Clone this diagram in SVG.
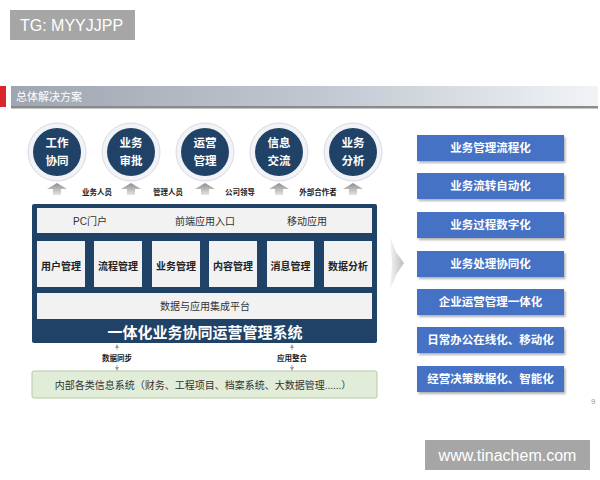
<svg xmlns="http://www.w3.org/2000/svg" width="600" height="480" viewBox="0 0 600 480">
<defs>
<linearGradient id="hdr" x1="0" y1="0" x2="1" y2="0">
<stop offset="0" stop-color="#9ea6b2"/>
<stop offset="0.55" stop-color="#c3c9d2"/>
<stop offset="1" stop-color="#f1f3f6"/>
</linearGradient>
<linearGradient id="upa" x1="0" y1="0" x2="0" y2="1">
<stop offset="0" stop-color="#8e8e8e"/>
<stop offset="1" stop-color="#e4e4e4"/>
</linearGradient>
<linearGradient id="chev" x1="0" y1="0" x2="1" y2="0">
<stop offset="0" stop-color="#f4f4f4"/>
<stop offset="1" stop-color="#bdbdbd"/>
</linearGradient>
<marker id="ah" viewBox="0 0 6 6" refX="3" refY="3" markerWidth="5" markerHeight="5" orient="auto-start-reverse">
<path d="M0,0 L6,3 L0,6 z" fill="#9a9a9a"/>
</marker>
<filter id="sh" x="-10%" y="-10%" width="130%" height="140%">
<feDropShadow dx="1.5" dy="2" stdDeviation="1" flood-color="#000" flood-opacity="0.3"/>
</filter>
</defs>
<style>
text{font-family:"Liberation Sans","Noto Sans CJK SC",sans-serif;}
.wm{fill:#a6a6a6;}
.wmt{fill:#fff;font-size:16px;}
.halo{fill:#f1f3f6;stroke:#d6dbe2;stroke-width:1;}
.disc{fill:#1f4266;}
.ct{fill:#fff;font-size:11.5px;font-weight:bold;text-anchor:middle;}
.lbl{fill:#222;font-size:7.5px;font-weight:bold;text-anchor:middle;}
.row{fill:#f2f2f2;}
.rt{fill:#333;font-size:10px;text-anchor:middle;}
.mod{fill:#f2f2f2;}
.mt{fill:#222;font-size:10px;font-weight:bold;text-anchor:middle;}
.rb{fill:#4472c4;filter:url(#sh);}
.rbt{fill:#fff;font-size:11.5px;font-weight:bold;text-anchor:middle;}
.conn{stroke:#9a9a9a;stroke-width:0.8;fill:none;}
</style>

<g id="watermark-tg">
<rect class="wm" x="10" y="10" width="125" height="30"/>
<text class="wmt" x="20" y="31">TG: MYYJJPP</text>
</g>

<g id="header">
<rect x="0" y="86" width="6" height="21" fill="#d9262b"/>
<rect x="11" y="86" width="587" height="21" fill="url(#hdr)"/>
<rect x="11" y="106" width="587" height="2.5" fill="#8a8a8a"/>
<text x="16" y="101" fill="#fff" font-size="11">总体解决方案</text>
</g>

<g id="c1"><circle class="halo" cx="57" cy="152" r="29"/><circle class="disc" cx="57" cy="152" r="24"/><text class="ct" x="57" y="147">工作</text><text class="ct" x="57" y="165">协同</text></g>
<g id="c2"><circle class="halo" cx="131" cy="152" r="29"/><circle class="disc" cx="131" cy="152" r="24"/><text class="ct" x="131" y="147">业务</text><text class="ct" x="131" y="165">审批</text></g>
<g id="c3"><circle class="halo" cx="205" cy="152" r="29"/><circle class="disc" cx="205" cy="152" r="24"/><text class="ct" x="205" y="147">运营</text><text class="ct" x="205" y="165">管理</text></g>
<g id="c4"><circle class="halo" cx="279" cy="152" r="29"/><circle class="disc" cx="279" cy="152" r="24"/><text class="ct" x="279" y="147">信息</text><text class="ct" x="279" y="165">交流</text></g>
<g id="c5"><circle class="halo" cx="353" cy="152" r="29"/><circle class="disc" cx="353" cy="152" r="24"/><text class="ct" x="353" y="147">业务</text><text class="ct" x="353" y="165">分析</text></g>

<g id="up-arrows">
<path d="M57,183 L67,189 L61,189 L61,195 L53,195 L53,189 L47,189 Z" fill="url(#upa)"/>
<path d="M131,183 L141,189 L135,189 L135,195 L127,195 L127,189 L121,189 Z" fill="url(#upa)"/>
<path d="M205,183 L215,189 L209,189 L209,195 L201,195 L201,189 L195,189 Z" fill="url(#upa)"/>
<path d="M279,183 L289,189 L283,189 L283,195 L275,195 L275,189 L269,189 Z" fill="url(#upa)"/>
<path d="M353,183 L363,189 L357,189 L357,195 L349,195 L349,189 L343,189 Z" fill="url(#upa)"/>
</g>
<g id="user-labels">
<text class="lbl" x="97" y="195">业务人员</text>
<text class="lbl" x="168" y="195">管理人员</text>
<text class="lbl" x="240" y="195">公司领导</text>
<text class="lbl" x="318" y="195">外部合作者</text>
</g>

<g id="platform">
<rect x="32" y="204" width="345" height="139" rx="2" fill="#1f4266"/>
<rect class="row" x="37" y="208" width="335" height="25"/>
<text class="rt" x="90" y="225">PC门户</text>
<text class="rt" x="205" y="225">前端应用入口</text>
<text class="rt" x="307" y="225">移动应用</text>
<text x="205" y="338" fill="#fff" font-size="15" font-weight="bold" text-anchor="middle">一体化业务协同运营管理系统</text>
</g>
<g id="m1"><rect class="mod" x="37" y="241" width="48" height="46"/><text class="mt" x="61" y="270">用户管理</text></g>
<g id="m2"><rect class="mod" x="94" y="241" width="48" height="46"/><text class="mt" x="118" y="270">流程管理</text></g>
<g id="m3"><rect class="mod" x="152" y="241" width="48" height="46"/><text class="mt" x="176" y="270">业务管理</text></g>
<g id="m4"><rect class="mod" x="209" y="241" width="48" height="46"/><text class="mt" x="233" y="270">内容管理</text></g>
<g id="m5"><rect class="mod" x="267" y="241" width="47" height="46"/><text class="mt" x="290.5" y="270">消息管理</text></g>
<g id="m6"><rect class="mod" x="324" y="241" width="48" height="46"/><text class="mt" x="348" y="270">数据分析</text></g>
<g id="integration"><rect class="row" x="37" y="293" width="335" height="26"/><text class="rt" x="205" y="310">数据与应用集成平台</text></g>

<g id="connectors">
<line class="conn" x1="117" y1="346" x2="117" y2="350" marker-start="url(#ah)"/>
<line class="conn" x1="117" y1="365" x2="117" y2="369" marker-end="url(#ah)"/>
<line class="conn" x1="292" y1="346" x2="292" y2="350" marker-start="url(#ah)"/>
<line class="conn" x1="292" y1="365" x2="292" y2="369" marker-end="url(#ah)"/>
<text class="lbl" x="117" y="361">数据同步</text>
<text class="lbl" x="292" y="361">应用整合</text>
</g>

<g id="internal">
<rect x="32" y="371" width="345" height="27" rx="2" fill="#e2edd9" stroke="#b4c9a4" stroke-width="1"/>
<text x="203" y="388.5" fill="#333" font-size="10" text-anchor="middle">内部各类信息系统（财务、工程项目、档案系统、大数据管理......）</text>
</g>

<g id="chevron">
<path d="M390,237 L396,252 L404,263 L396,275 L390,290 L392,263 Z" fill="url(#chev)"/>
</g>

<g id="r1"><rect class="rb" x="417" y="135" width="147" height="26"/><text class="rbt" x="490.5" y="152">业务管理流程化</text></g>
<g id="r2"><rect class="rb" x="417" y="173" width="147" height="26"/><text class="rbt" x="490.5" y="190">业务流转自动化</text></g>
<g id="r3"><rect class="rb" x="417" y="212" width="147" height="26"/><text class="rbt" x="490.5" y="229">业务过程数字化</text></g>
<g id="r4"><rect class="rb" x="417" y="251" width="147" height="26"/><text class="rbt" x="490.5" y="268">业务处理协同化</text></g>
<g id="r5"><rect class="rb" x="417" y="289" width="147" height="26"/><text class="rbt" x="490.5" y="306">企业运营管理一体化</text></g>
<g id="r6"><rect class="rb" x="417" y="327" width="147" height="26"/><text class="rbt" x="490.5" y="344">日常办公在线化、移动化</text></g>
<g id="r7"><rect class="rb" x="417" y="366" width="147" height="26"/><text class="rbt" x="490.5" y="383">经营决策数据化、智能化</text></g>

<text x="591" y="404" fill="#999" font-size="8">9</text>

<g id="watermark-url">
<rect class="wm" x="425" y="440" width="165" height="30"/>
<text x="507.5" y="461" fill="#fff" font-size="16" text-anchor="middle">www.tinachem.com</text>
</g>
</svg>
